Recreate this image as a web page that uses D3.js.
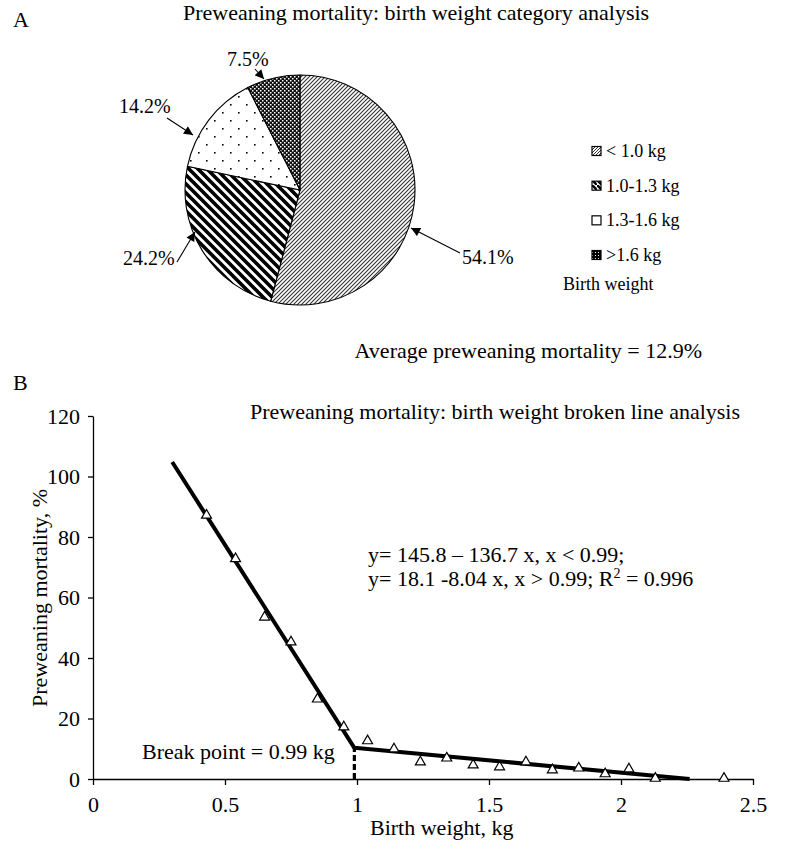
<!DOCTYPE html>
<html><head><meta charset="utf-8">
<script src="https://cdn.jsdelivr.net/npm/d3@7"></script>
<style>
html,body{margin:0;padding:0;background:#fff;}
text{font-family:"Liberation Serif","Times New Roman",serif;fill:#000;}
</style></head>
<body>
<svg id="chart" width="796" height="860"></svg>
<script>
// ---------- Data ----------
const categories = ["< 1.0 kg", "1.0-1.3 kg", "1.3-1.6 kg", ">1.6 kg"];
const shares = [54.1, 24.2, 14.2, 7.5];
const shareLabels = ["54.1%", "24.2%", "14.2%", "7.5%"];

const birthWeight = [0.43, 0.54, 0.65, 0.75, 0.85, 0.95, 1.04, 1.14, 1.24, 1.34, 1.44, 1.54, 1.64, 1.74, 1.84, 1.94, 2.03, 2.13, 2.39];
const mortality   = [87.2, 72.8, 53.5, 45.3, 26.4, 17.2, 12.6, 9.9, 5.6, 6.9, 4.6, 4.0, 5.6, 3.0, 3.6, 1.7, 3.3, 0.2, 0.2];

const fitX = [0.30, 0.99, 2.26];
const fitY = [104.8, 10.3, 0.0];
const breakX = 0.99;

const xTicks = [0, 0.5, 1, 1.5, 2, 2.5];
const yTicks = [0, 20, 40, 60, 80, 100, 120];

// ---------- Setup ----------
const svg = d3.select("#chart");
const defs = svg.append("defs");

function pat(id, w, h) {
  return defs.append("pattern").attr("id", id).attr("patternUnits", "userSpaceOnUse")
    .attr("width", w).attr("height", h);
}
let p = pat("p0", 4, 4);
p.append("rect").attr("width", 4).attr("height", 4).attr("fill", "#fff");
p.append("path").attr("d", "M-1,1 l2,-2 M0,4 l4,-4 M3,5 l2,-2").attr("stroke", "#333").attr("stroke-width", 1.1);
p = pat("p1", 9, 9);
p.append("rect").attr("width", 9).attr("height", 9).attr("fill", "#fff");
p.append("path").attr("d", "M-2,-2 L11,11 M-2,7 L2,11 M7,-2 L11,2").attr("stroke", "#000").attr("stroke-width", 3.6);
p = pat("p2", 16, 16);
p.append("rect").attr("width", 16).attr("height", 16).attr("fill", "#fff");
p.append("rect").attr("x", 2).attr("y", 2).attr("width", 1.6).attr("height", 1.6).attr("fill", "#000");
p.append("rect").attr("x", 10).attr("y", 10).attr("width", 1.6).attr("height", 1.6).attr("fill", "#000");
p = pat("p3", 4, 4);
p.append("rect").attr("width", 4).attr("height", 4).attr("fill", "#111");
p.append("rect").attr("x", 0).attr("y", 0).attr("width", 1.5).attr("height", 1.5).attr("fill", "#fff");
p.append("rect").attr("x", 2).attr("y", 2).attr("width", 1.5).attr("height", 1.5).attr("fill", "#fff");

p = pat("l0", 3, 3);
p.append("rect").attr("width", 3).attr("height", 3).attr("fill", "#fff");
p.append("path").attr("d", "M0,3 l3,-3").attr("stroke", "#000").attr("stroke-width", 0.8);
p = pat("l1", 5, 5);
p.append("rect").attr("width", 5).attr("height", 5).attr("fill", "#fff");
p.append("path").attr("d", "M-1,-1 L6,6").attr("stroke", "#000").attr("stroke-width", 2.5);
p = pat("l3", 3, 3);
p.append("rect").attr("width", 3).attr("height", 3).attr("fill", "#000");
p.append("rect").attr("width", 1).attr("height", 1).attr("fill", "#fff");
const fills = ["url(#p0)", "url(#p1)", "url(#p2)", "url(#p3)"];
const legendFills = ["url(#l0)", "url(#l1)", "#fff", "url(#l3)"];

defs.append("marker").attr("id", "arr").attr("viewBox", "0 0 10 10").attr("refX", 10).attr("refY", 5)
  .attr("markerWidth", 10).attr("markerHeight", 9).attr("markerUnits", "userSpaceOnUse").attr("orient", "auto")
  .append("path").attr("d", "M0,0 L10,5 L0,10 z").attr("fill", "#000");

const FS = 22;

// ---------- Panel A ----------
svg.append("text").attr("x", 13).attr("y", 27).attr("font-size", FS).text("A");
svg.append("text").attr("x", 183).attr("y", 20).attr("font-size", FS)
  .text("Preweaning mortality: birth weight category analysis");

const cx = 300, cy = 190, R = 115;
const pie = d3.pie().sort(null).value(d => d)(shares);
const arc = d3.arc().innerRadius(0).outerRadius(R);
const gPie = svg.append("g").attr("transform", `translate(${cx},${cy})`);
gPie.selectAll("path").data(pie).join("path")
  .attr("d", arc).attr("fill", (d, i) => fills[i]).attr("stroke", "#000").attr("stroke-width", 1.1);

const labelPos = [
  {tx: 462, ty: 264, from: [460, 253], to: [411, 228]},
  {tx: 123, ty: 265, from: [177, 262], to: [195, 232]},
  {tx: 119, ty: 113, from: [167, 118], to: [193, 135]},
  {tx: 227, ty: 66,  from: [255, 69],  to: [264, 79]}
];
shareLabels.forEach((t, i) => {
  const lp = labelPos[i];
  svg.append("text").attr("x", lp.tx).attr("y", lp.ty).attr("font-size", 20).text(t);
  svg.append("line").attr("x1", lp.from[0]).attr("y1", lp.from[1]).attr("x2", lp.to[0]).attr("y2", lp.to[1])
    .attr("stroke", "#000").attr("stroke-width", 1.1).attr("marker-end", "url(#arr)");
});

const gLeg = svg.append("g").attr("transform", "translate(592,0)");
const legY = d3.scalePoint().domain(categories).range([151, 255]);
categories.forEach((c, i) => {
  gLeg.append("rect").attr("x", 0).attr("y", legY(c) - 4.5).attr("width", 9).attr("height", 9)
    .attr("fill", legendFills[i]).attr("stroke", "#000").attr("stroke-width", 1.2);
  gLeg.append("text").attr("x", 14).attr("y", legY(c) + 6).attr("font-size", 18).text(c);
});
svg.append("text").attr("x", 563).attr("y", 290).attr("font-size", 18).text("Birth weight");

svg.append("text").attr("x", 702).attr("y", 358).attr("text-anchor", "end").attr("font-size", FS)
  .text("Average preweaning mortality = 12.9%");

// ---------- Panel B ----------
svg.append("text").attr("x", 13).attr("y", 390).attr("font-size", FS).text("B");

const x = d3.scaleLinear().domain([0, 2.5]).range([93, 753]);
const y = d3.scaleLinear().domain([0, 120]).range([779, 416]);

const xAxis = svg.append("g").attr("transform", `translate(0,${y(0)})`)
  .call(d3.axisBottom(x).tickValues(xTicks).tickFormat(d3.format("")).tickSize(6).tickSizeOuter(0).tickPadding(11));
const yAxis = svg.append("g").attr("transform", `translate(${x(0)},0)`)
  .call(d3.axisLeft(y).tickValues(yTicks).tickSize(5).tickSizeOuter(0).tickPadding(8));
[xAxis, yAxis].forEach(a => {
  a.attr("font-family", null);
  a.select(".domain").attr("stroke", "#000").attr("stroke-width", 1.3);
  a.selectAll(".tick line").attr("stroke", "#000").attr("stroke-width", 1.3);
  a.selectAll(".tick text").attr("font-size", FS).attr("fill", "#000");
});

svg.append("text").attr("x", 250).attr("y", 419).attr("font-size", FS)
  .text("Preweaning mortality: birth weight broken line analysis");

const fit = fitX.map((d, i) => [d, fitY[i]]);
svg.append("path").datum(fit)
  .attr("d", d3.line().x(d => x(d[0])).y(d => y(d[1])))
  .attr("fill", "none").attr("stroke", "#000").attr("stroke-width", 4).attr("stroke-linejoin", "round");

svg.append("line").attr("x1", x(breakX)).attr("x2", x(breakX)).attr("y1", y(0)).attr("y2", y(fitY[1]))
  .attr("stroke", "#000").attr("stroke-width", 3.2).attr("stroke-dasharray", "6,3");

const tri = d3.symbol().type(d3.symbolTriangle).size(43);
svg.append("g").selectAll("path").data(birthWeight.map((d, i) => [d, mortality[i]])).join("path")
  .attr("transform", d => `translate(${x(d[0])},${y(d[1])})`)
  .attr("d", tri).attr("fill", "#fff").attr("stroke", "#000").attr("stroke-width", 1.2);

const eq = svg.append("g").attr("font-size", FS);
eq.append("text").attr("x", 368).attr("y", 562).text("y= 145.8 \u2013 136.7 x, x < 0.99;");
const t2 = eq.append("text").attr("x", 368).attr("y", 586);
t2.append("tspan").text("y= 18.1 -8.04 x, x > 0.99; R");
t2.append("tspan").attr("dy", -8).attr("font-size", 14).text("2");
t2.append("tspan").attr("dy", 8).text(" = 0.996");

svg.append("text").attr("x", 142).attr("y", 759).attr("font-size", FS).text("Break point = 0.99 kg");

svg.append("text").attr("x", 370).attr("y", 835).attr("font-size", FS).text("Birth weight, kg");
svg.append("text").attr("transform", "translate(47,598) rotate(-90)").attr("text-anchor", "middle").attr("font-size", FS)
  .text("Preweaning mortality, %");
</script>
</body></html>
